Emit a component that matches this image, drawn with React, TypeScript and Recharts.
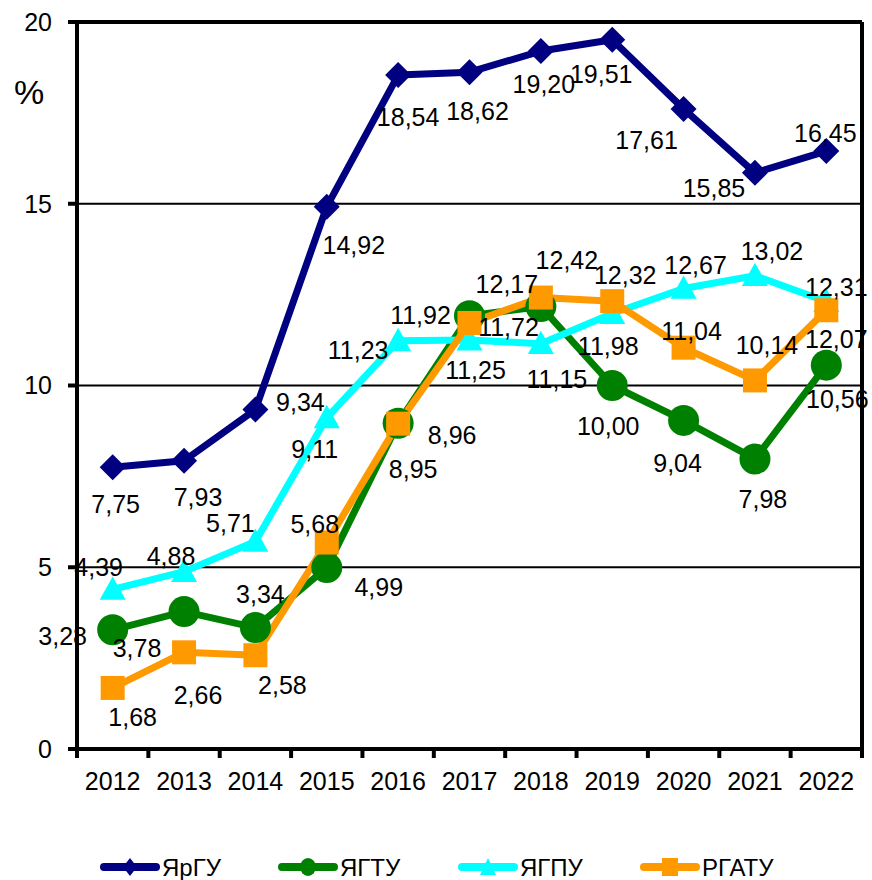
import { CartesianGrid, LabelList, Line, LineChart, ReferenceLine, XAxis, YAxis } from "recharts";

const YEARS = ["2012", "2013", "2014", "2015", "2016", "2017", "2018", "2019", "2020", "2021", "2022"];
const YARGU = [7.75, 7.93, 9.34, 14.92, 18.54, 18.62, 19.2, 19.51, 17.61, 15.85, 16.45];
const YAGTU = [3.28, 3.78, 3.34, 4.99, 8.96, 11.92, 12.17, 10.0, 9.04, 7.98, 10.56];
const YAGPU = [4.39, 4.88, 5.71, 9.11, 11.23, 11.25, 11.15, 11.98, 12.67, 13.02, 12.31];
const RGATU = [1.68, 2.66, 2.58, 5.68, 8.95, 11.72, 12.42, 12.32, 11.04, 10.14, 12.07];
const Y_TICKS = [0, 5, 10, 15, 20];

// where each data label sits relative to its point (dx, dy), as in the original
const YARGU_LABELS = [[3, 37], [14, 36], [45, -7], [27, 38], [10, 42], [8, 39], [3, 33], [-11, 34], [-37, 31], [-41, 15], [-1, -18]];
const YAGTU_LABELS = [[-50, 6], [-47, 36], [5, -34], [52, 19], [54, 12], [-49, -1], [-34, -23], [-4, 40], [-6, 43], [8, 40], [11, 34]];
const YAGPU_LABELS = [[-14, -22], [-13, -16], [-25, -18], [-12, 31], [-40, 9], [6, 30], [16, 35], [-4, 32], [12, -23], [17, -25], [10, -15]];
const RGATU_LABELS = [[20, 29], [14, 43], [27, 30], [-12, -19], [15, 45], [39, 4], [26, -38], [13, -26], [8, -17], [12, -35], [10, 29]];

const data = YEARS.map((year, i) => ({
  year,
  yargu: YARGU[i],
  yagtu: YAGTU[i],
  yagpu: YAGPU[i],
  rgatu: RGATU[i],
}));

const W = 872;
const H = 880;
const Y_AXIS_W = 77;
const RIGHT_W = 10;
const BAND = (W - Y_AXIS_W - RIGHT_W) / YEARS.length;
const FONT = "'Liberation Sans', Arial, sans-serif";

const NAVY = "#000080";
const GREEN = "#008000";
const CYAN = "#00FFFF";
const ORANGE = "#FF9900";

const fmt = (v: number) => v.toFixed(2).replace(".", ",");

function Diamond({ cx, cy, color, r = 13 }: any) {
  return <polygon points={`${cx},${cy - r} ${cx + r},${cy} ${cx},${cy + r} ${cx - r},${cy}`} fill={color} />;
}
function Circle({ cx, cy, color, r = 15.5 }: any) {
  return <circle cx={cx} cy={cy} r={r} fill={color} />;
}
function Triangle({ cx, cy, color, s = 13 }: any) {
  return <polygon points={`${cx},${cy - s} ${cx + s},${cy + s * 0.8} ${cx - s},${cy + s * 0.8}`} fill={color} />;
}
function Square({ cx, cy, color, s = 12 }: any) {
  return <rect x={cx - s} y={cy - s} width={s * 2} height={s * 2} fill={color} />;
}

const dotOf = (Shape: any, color: string) => (props: any) => {
  const { cx, cy, index } = props;
  if (cx == null || cy == null) return <g key={index} />;
  return <Shape key={index} cx={cx} cy={cy} color={color} />;
};

const labelOf = (offsets: number[][]) => (props: any) => {
  const x = props.x ?? props.viewBox?.x;
  const y = props.y ?? props.viewBox?.y;
  const [dx, dy] = offsets[props.index] || [0, 0];
  return (
    <text
      x={x + dx}
      y={y + dy}
      dy="0.36em"
      textAnchor="middle"
      fontSize={25}
      fontFamily={FONT}
      fill="#000"
    >
      {fmt(Number(props.value))}
    </text>
  );
};

function XTick(props: any) {
  const { x, y, payload, index } = props;
  const half = BAND / 2;
  return (
    <g>
      <line x1={x - half} x2={x - half} y1={y} y2={y + 9} stroke="#000" strokeWidth={4} />
      {index === YEARS.length - 1 && (
        <line x1={x + half} x2={x + half} y1={y} y2={y + 9} stroke="#000" strokeWidth={4} />
      )}
      <text x={x} y={y + 41} textAnchor="middle" fontSize={25} fontFamily={FONT} fill="#000">
        {payload.value}
      </text>
    </g>
  );
}

const SERIES = [
  { key: "yargu", name: "ЯрГУ", color: NAVY, shape: Diamond, labels: YARGU_LABELS },
  { key: "yagtu", name: "ЯГТУ", color: GREEN, shape: Circle, labels: YAGTU_LABELS },
  { key: "yagpu", name: "ЯГПУ", color: CYAN, shape: Triangle, labels: YAGPU_LABELS },
  { key: "rgatu", name: "РГАТУ", color: ORANGE, shape: Square, labels: RGATU_LABELS },
];

const LEGEND_X = [101, 279, 459, 641];

function LegendRow() {
  const y = 867;
  return (
    <svg width={W} height={H} style={{ position: "absolute", left: 0, top: 0, pointerEvents: "none" }}>
      {SERIES.map((s, i) => {
        const x0 = LEGEND_X[i];
        const mid = x0 + 29;
        let marker;
        if (s.shape === Diamond) {
          marker = <polygon points={`${mid},${y - 9} ${mid + 7},${y} ${mid},${y + 9} ${mid - 7},${y}`} fill={s.color} />;
        } else if (s.shape === Circle) {
          marker = <ellipse cx={mid} cy={y} rx={8} ry={9} fill={s.color} />;
        } else if (s.shape === Triangle) {
          marker = <polygon points={`${mid},${y - 9} ${mid + 8},${y + 8} ${mid - 8},${y + 8}`} fill={s.color} />;
        } else {
          marker = <rect x={mid - 8} y={y - 9} width={16} height={18} fill={s.color} />;
        }
        return (
          <g key={s.key}>
            <line x1={x0 + 3} x2={x0 + 55} y1={y} y2={y} stroke={s.color} strokeWidth={8} strokeLinecap="round" />
            {marker}
            <text x={x0 + 61} y={y + 8.5} fontSize={24} fontFamily={FONT} fill="#000">
              {s.name}
            </text>
          </g>
        );
      })}
    </svg>
  );
}

export default function App() {
  return (
    <div style={{ position: "absolute", left: 0, top: 0, width: W, height: H, background: "#fff" }}>
      <LineChart width={W} height={H} data={data} margin={{ top: 22, right: 0, bottom: 0, left: 0 }}>
        <CartesianGrid vertical={false} stroke="#000" strokeWidth={2} />
        <XAxis
          dataKey="year"
          scale="band"
          interval={0}
          height={131}
          tickSize={0}
          tickMargin={0}
          tickLine={false}
          axisLine={{ stroke: "#000", strokeWidth: 4 }}
          tick={<XTick />}
        />
        <YAxis
          domain={[0, 20]}
          ticks={Y_TICKS}
          width={Y_AXIS_W}
          tickSize={9}
          tickMargin={16}
          axisLine={{ stroke: "#000", strokeWidth: 4 }}
          tickLine={{ stroke: "#000", strokeWidth: 4 }}
          tick={{ fill: "#000", fontSize: 25, fontFamily: FONT }}
          label={(p: any) => (
            <text x={29} y={92} dy="0.36em" textAnchor="middle" fontSize={34} fontFamily={FONT} fill="#000">
              %
            </text>
          )}
        />
        <YAxis
          yAxisId="r"
          orientation="right"
          domain={[0, 20]}
          width={RIGHT_W}
          tick={false}
          tickLine={false}
          axisLine={{ stroke: "#000", strokeWidth: 4 }}
        />
        <ReferenceLine y={20} stroke="#000" strokeWidth={4} />
        {SERIES.map((s) => (
          <Line
            key={s.key}
            dataKey={s.key}
            name={s.name}
            stroke={s.color}
            strokeWidth={7}
            strokeLinejoin="round"
            dot={dotOf(s.shape, s.color)}
            activeDot={false}
            isAnimationActive={false}
          />
        ))}
        {SERIES.map((s) => (
          <Line
            key={s.key + "-labels"}
            dataKey={s.key}
            stroke="none"
            dot={false}
            activeDot={false}
            legendType="none"
            isAnimationActive={false}
          >
            <LabelList dataKey={s.key} content={labelOf(s.labels)} />
          </Line>
        ))}
      </LineChart>
      <LegendRow />
    </div>
  );
}
